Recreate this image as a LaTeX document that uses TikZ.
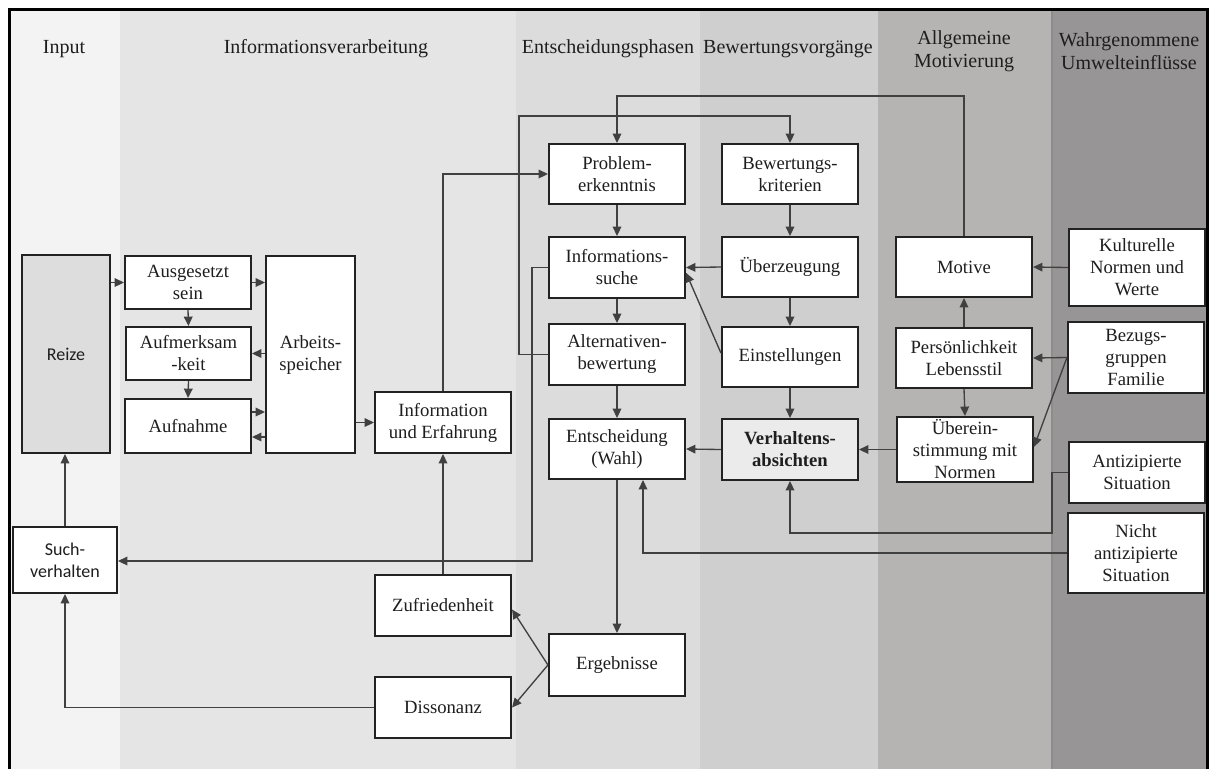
\documentclass[tikz,border=0pt]{standalone}
\usepackage{fontspec}
\setmainfont{Liberation Serif}
\newfontfamily\sansbody{Carlito}
\usetikzlibrary{arrows.meta}

\definecolor{bandA}{HTML}{F3F3F3}
\definecolor{bandB}{HTML}{E5E5E5}
\definecolor{bandC}{HTML}{DCDCDC}
\definecolor{bandD}{HTML}{CFCFCF}
\definecolor{bandE}{HTML}{B5B4B2}
\definecolor{bandF}{HTML}{979596}
\definecolor{boxline}{HTML}{222222}
\definecolor{conn}{HTML}{404040}
\definecolor{txt}{HTML}{1E1E1E}
\definecolor{reizefill}{HTML}{DDDDDD}
\definecolor{absfill}{HTML}{EBEBEB}

% box given by its corner coordinates (x1,y1)-(x2,y2), in pixels
\newcommand\placenode[7][]{%
  \pgfmathsetmacro\pnw{(#5-#3)*0.75}%
  \pgfmathsetmacro\pnh{(#6-#4)*0.75}%
  \pgfmathsetmacro\pnx{(#3+#5)/2}%
  \pgfmathsetmacro\pny{(#4+#6)/2}%
  \node[blk,minimum width=\pnw pt,minimum height=\pnh pt,#1] (#2) at (\pnx,\pny) {#7};}

\begin{document}
\begin{tikzpicture}[x=0.75pt,y=-0.75pt,
  blk/.style={draw=boxline, line width=1.6pt, fill=white, align=center, inner sep=0pt,
    font=\fontsize{14}{16.5}\selectfont, text=txt},
  arr/.style={draw=conn, line width=1pt, -{Triangle[length=7pt,width=6.5pt]}},
  head/.style={align=center, font=\fontsize{15}{17.5}\selectfont, text=txt},
  sanstext/.style={font=\sansbody\fontsize{13.5}{16.5}\selectfont}]

\useasboundingbox (0,0) rectangle (1210,769);

% column bands
\fill[bandA] (10,10) rectangle (120,769);
\fill[bandB] (120,10) rectangle (516,769);
\fill[bandC] (516,10) rectangle (700,769);
\fill[bandD] (700,10) rectangle (878,769);
\fill[bandE] (878,10) rectangle (1052,769);
\fill[bandF] (1052,10) rectangle (1207,769);
\draw[line width=1pt, color=black!45] (1052,10) -- (1052,769);

% frame
\draw[line width=2.25pt, black] (9.5,769) -- (9.5,9.5) -- (1207,9.5) -- (1207,769);

% column headings
\node[head] (hInput) at (64,49) {Input};
\node[head] (hInfo) at (326,49) {Informationsverarbeitung};
\node[head] (hEnt) at (608,49) {Entscheidungsphasen};
\node[head] (hBew) at (788,49) {Bewertungsvorgänge};
\node[head] (hMot) at (964,51) {Allgemeine\\Motivierung};
\node[head] (hUmw) at (1129,51) {Wahrgenommene\\Umwelteinflüsse};

% input and information processing
\placenode[fill=reizefill,sanstext]{reize}{22}{255}{110}{453}{Reize}
\placenode{ausg}{125}{256}{251}{309}{Ausgesetzt\\sein}
\placenode{aufm}{126}{327}{251}{380}{Aufmerksam\\-keit}
\placenode{aufn}{125}{399}{251}{453}{Aufnahme}
\placenode{arbeit}{266}{256}{355}{453}{Arbeits-\\speicher}
\placenode{info}{375}{392}{511}{453}{Information\\und Erfahrung}
\placenode[sanstext]{such}{13}{527}{117}{593}{Such-\\verhalten}
\placenode{zufr}{375}{575}{511}{636}{Zufriedenheit}
\placenode{disso}{375}{677}{511}{738}{Dissonanz}

% decision phases
\placenode{problem}{549}{144}{685}{204}{Problem-\\erkenntnis}
\placenode{suche}{549}{237}{685}{298}{Informations-\\suche}
\placenode{altern}{549}{324}{685}{385}{Alternativen-\\bewertung}
\placenode{entsch}{549}{419}{685}{479}{Entscheidung\\(Wahl)}
\placenode{ergeb}{549}{634}{685}{696}{Ergebnisse}

% evaluation
\placenode{kriter}{722}{144}{858}{204}{Bewertungs-\\kriterien}
\placenode{ueberz}{722}{237}{858}{297}{Überzeugung}
\placenode{einst}{722}{327}{858}{387}{Einstellungen}
\placenode[fill=absfill,font=\fontsize{14}{16.5}\selectfont\bfseries]{absicht}{722}{419}{858}{480}{Verhaltens-\\absichten}

% motivation
\placenode{motive}{896}{237}{1032}{297}{Motive}
\placenode{persoen}{896}{328}{1032}{388}{Persönlichkeit\\Lebensstil}
\placenode{normen}{897}{417}{1033}{482}{Überein-\\stimmung mit\\Normen}

% environmental influences
\placenode{kultur}{1069}{229}{1205}{306}{Kulturelle\\Normen und\\Werte}
\placenode{bezug}{1068}{322}{1204}{393}{Bezugs-\\gruppen\\Familie}
\placenode{antiz}{1069}{442}{1205}{503}{Antizipierte\\Situation}
\placenode{nicht}{1068}{513}{1204}{593}{Nicht\\antizipierte\\Situation}

% routing points
\coordinate (topA) at (0,96);
\coordinate (topB) at (519,116);
\coordinate (leftC) at (532,561);
\coordinate (rightD) at (1052,533);

% information processing
\draw[arr] (reize.east |- ausg.west) -- (ausg.west);
\draw[arr] (ausg.south) -- (aufm.north);
\draw[arr] (aufm.south) -- (aufn.north);
\draw[arr] (ausg.east) -- (ausg.east -| arbeit.west);
\draw[arr] (arbeit.west |- aufm.east) -- (aufm.east);
\draw[arr] ([yshift=10.5pt]aufn.east) -- ([yshift=10.5pt]aufn.east -| arbeit.west);
\draw[arr] ([yshift=-8.25pt]aufn.east -| arbeit.west) -- ([yshift=-8.25pt]aufn.east);
\draw[arr] (arbeit.east |- info.west) -- (info.west);
\draw[arr] (info.north) |- (problem.west);
\draw[arr] (zufr.north) -- (info.south);
\draw[arr] (such.north) -- (such.north |- reize.south);
\draw[arr] (disso.west) -| (such.south);
\draw[arr] (ergeb.west) -- ([yshift=-3pt]zufr.east);
\draw[arr] (ergeb.west) -- (disso.east);

% decision phases
\draw[arr] (problem.south) -- (suche.north);
\draw[arr] (suche.south) -- (altern.north);
\draw[arr] (altern.south) -- (entsch.north);
\draw[arr] (entsch.south) -- (ergeb.north);
\draw[arr] (suche.west) -| (leftC) -- (leftC -| such.east);
\draw[arr] (altern.west) -| (topB) -| (kriter.north);

% evaluation
\draw[arr] (kriter.south) -- (ueberz.north);
\draw[arr] (ueberz.south) -- (einst.north);
\draw[arr] (einst.south) -- (absicht.north);
\draw[arr] (ueberz.west) -- (suche.east);
\draw[arr] ([yshift=3pt]einst.west) -- ([yshift=-4pt]suche.east);
\draw[arr] (absicht.west) -- (entsch.east);

% motivation
\draw[arr] (normen.west) -- (absicht.east);
\draw[arr] (persoen.north) -- (motive.south);
\draw[arr] (persoen.south) -- (normen.north);
\draw[arr] (motive.north) -- (motive.north |- topA) -| (problem.north);

% environmental influences
\draw[arr] (kultur.west) -- (motive.east);
\draw[arr] (bezug.west) -- (persoen.east);
\draw[arr] (bezug.west) -- ([yshift=2pt]normen.east);
\draw[arr] (antiz.west) -| (rightD) -| (absicht.south);
\draw[arr] (nicht.west) -| ([xshift=19.5pt]entsch.south);

\end{tikzpicture}
\end{document}
